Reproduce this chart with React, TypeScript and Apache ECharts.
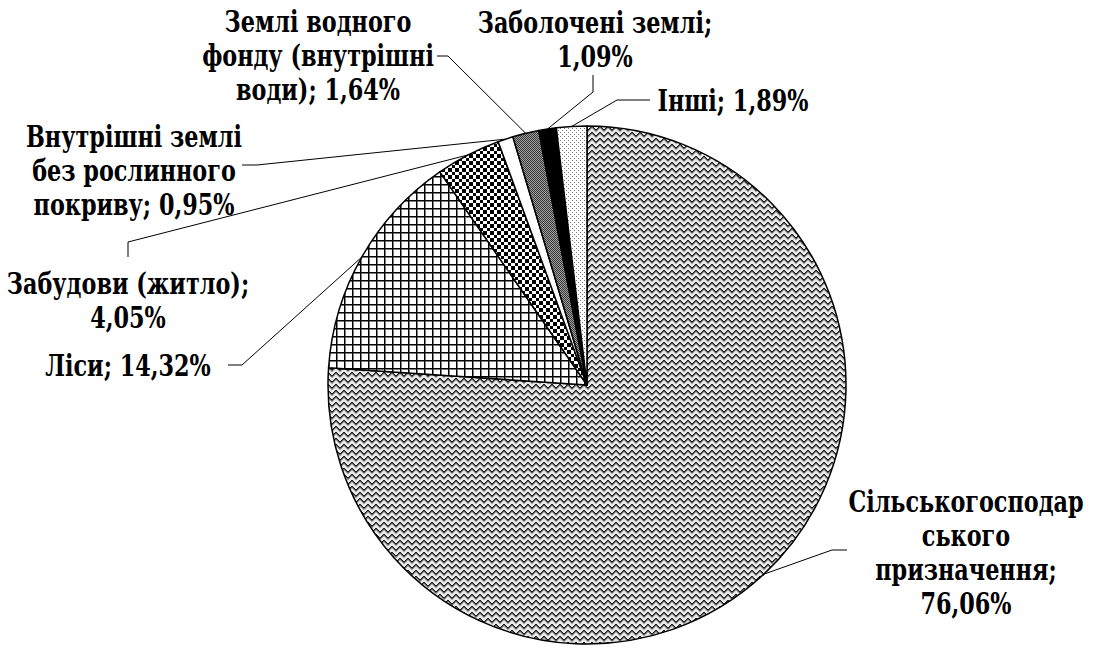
import React, { useEffect, useRef } from 'react';
import * as echarts from 'echarts';

// ---- data ----
const categories = [
  'Сільськогосподар\nського\nпризначення',
  'Ліси',
  'Забудови (житло)',
  'Внутрішні землі\nбез рослинного\nпокриву',
  'Землі водного\nфонду (внутрішні\nводи)',
  'Заболочені землі',
  'Інші',
];
const shares = [76.06, 14.32, 4.05, 0.95, 1.64, 1.09, 1.89];
const valueOnNewLine = [true, false, true, false, false, true, false];

// ---- label layout (positions of text blocks and leader-line bends) ----
const labelLayouts = [
  { x: 966, y: 553, line: [[832, 550], [847, 550]] },
  { x: 128, y: 366, line: [[242, 365], [228, 365]] },
  { x: 128, y: 301, line: [[128, 242], [128, 257]] },
  { x: 134, y: 171, line: [[257, 165], [242, 165]] },
  { x: 318, y: 56, line: [[448, 56], [437, 56]] },
  { x: 595, y: 40, line: [[593, 92], [593, 75]] },
  { x: 733, y: 101, line: [[617, 100], [650, 100]] },
];

const FONT = 'DejaVu Serif';

function tile(w: number, h: number, draw: (ctx: CanvasRenderingContext2D) => void) {
  const c = document.createElement('canvas');
  c.width = w;
  c.height = h;
  const ctx = c.getContext('2d') as CanvasRenderingContext2D;
  draw(ctx);
  return { image: c.toDataURL(), imageWidth: w, imageHeight: h, repeat: 'repeat' };
}

function makePatterns() {
  const zig = tile(8, 6, (ctx) => {
    ctx.fillStyle = '#e8e8e8';
    ctx.fillRect(0, 0, 8, 6);
    const ys = [0, 1, 2, 3, 3, 2, 1, 0];
    for (let x = 0; x < 8; x++) {
      ctx.fillStyle = '#181818';
      ctx.fillRect(x, ys[x], 1, 1);
      ctx.fillStyle = '#606060';
      ctx.fillRect(x, ys[x] + 1, 1, 1);
      ctx.fillStyle = '#a8a8a8';
      ctx.fillRect(x, (ys[x] + 2) % 6, 1, 1);
    }
  });
  const grid = tile(8, 8, (ctx) => {
    ctx.fillStyle = '#ffffff';
    ctx.fillRect(0, 0, 8, 8);
    ctx.fillStyle = '#000000';
    ctx.fillRect(0, 0, 8, 1);
    ctx.fillRect(0, 0, 1, 8);
    ctx.fillStyle = '#7a7a7a';
    ctx.fillRect(1, 1, 7, 1);
    ctx.fillRect(1, 1, 1, 7);
  });
  const checker = tile(7, 7, (ctx) => {
    ctx.fillStyle = '#ffffff';
    ctx.fillRect(0, 0, 7, 7);
    ctx.fillStyle = '#000000';
    ctx.fillRect(0, 0, 4, 4);
    ctx.fillRect(4, 4, 3, 3);
  });
  const greyDots = tile(2, 2, (ctx) => {
    ctx.fillStyle = '#a0a0a0';
    ctx.fillRect(0, 0, 2, 2);
    ctx.fillStyle = '#383838';
    ctx.fillRect(0, 0, 1, 1);
    ctx.fillRect(1, 1, 1, 1);
  });
  const sparse = tile(4, 4, (ctx) => {
    ctx.fillStyle = '#ffffff';
    ctx.fillRect(0, 0, 4, 4);
    ctx.fillStyle = '#7a7a7a';
    ctx.fillRect(0, 0, 1, 1);
    ctx.fillRect(2, 2, 1, 1);
  });
  return [zig, grid, checker, '#ffffff', greyDots, '#000000', sparse];
}

export default function App() {
  const ref = useRef<HTMLDivElement>(null);
  useEffect(() => {
    if (!ref.current) return;
    const chart = echarts.init(ref.current, undefined, { renderer: 'svg' });
    const patterns = makePatterns();
    const fmt = (v: number) => v.toFixed(2).replace('.', ',') + '%';
    const labelText = (i: number) =>
      categories[i] + (valueOnNewLine[i] ? ';\n' : '; ') + fmt(shares[i]);
    chart.setOption({
      animation: false,
      backgroundColor: '#ffffff',
      graphic: labelLayouts.map((l, i) => ({
        type: 'text',
        x: l.x,
        y: l.y,
        scaleX: 0.77,
        z: 100,
        silent: true,
        style: {
          text: labelText(i),
          fontFamily: FONT,
          fontWeight: 'bold',
          fontSize: 29,
          lineHeight: 34,
          fill: '#000000',
          align: 'center',
          verticalAlign: 'middle',
        },
      })),
      series: [
        {
          type: 'pie',
          center: [587, 385],
          radius: 259,
          startAngle: 90,
          clockwise: true,
          avoidLabelOverlap: false,
          silent: true,
          itemStyle: { borderColor: '#000000', borderWidth: 1.5 },
          label: {
            show: true,
            position: 'outside',
            color: 'rgba(0,0,0,0)',
            fontSize: 1,
            formatter: () => ' ',
          },
          labelLine: {
            show: true,
            length: 10,
            length2: 10,
            lineStyle: { color: '#000000', width: 1 },
          },
          labelLayout: (params: any) => {
            const l = labelLayouts[params.dataIndex];
            const p0 = params.labelLinePoints && params.labelLinePoints[0];
            const out: any = { x: l.x, y: l.y, align: 'center', verticalAlign: 'middle' };
            if (p0) out.labelLinePoints = [p0, ...l.line];
            return out;
          },
          data: shares.map((v, i) => ({
            name: categories[i].replace(/\n/g, ' '),
            value: v,
            itemStyle: { color: patterns[i] },
          })),
        },
      ],
    });
    return () => chart.dispose();
  }, []);
  return (
    <div
      ref={ref}
      style={{ position: 'absolute', left: 0, top: 0, width: 1093, height: 650, background: '#fff' }}
    />
  );
}
